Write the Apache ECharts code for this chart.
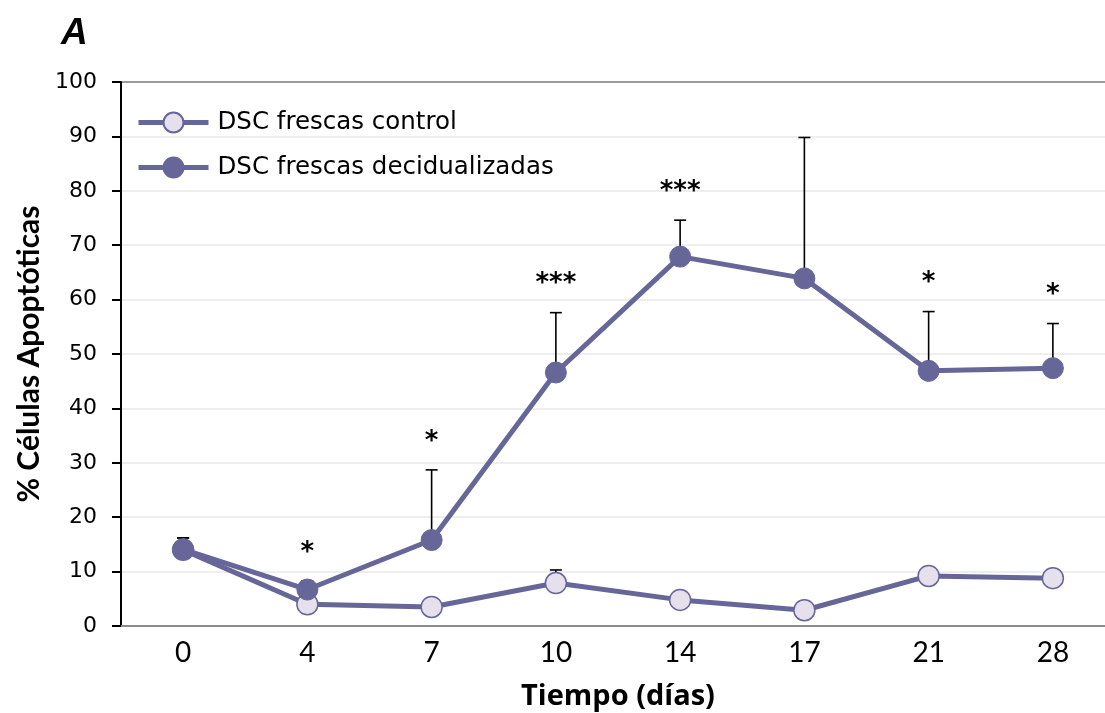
<!DOCTYPE html>
<html>
<head>
<meta charset="utf-8">
<script src="https://cdn.jsdelivr.net/npm/echarts@6/dist/echarts.min.js"></script>
<style>
  html, body { margin: 0; padding: 0; background: #ffffff; overflow: hidden; }
  #chart { width: 1105px; height: 713px; }
</style>
</head>
<body>
<div id="chart"></div>
<script>
// Days of culture
const days = ['0', '4', '7', '10', '14', '17', '21', '28'];

// % apoptotic cells, fresh DSC without treatment
const controlMean  = [14.0, 4.0, 3.5, 7.9, 4.8, 2.9, 9.2, 8.8];
const controlUpper = [16.2, null, 5.0, 10.3, null, null, null, null];

// % apoptotic cells, fresh decidualized DSC
const decidMean  = [14.1, 6.7, 15.8, 46.6, 67.9, 63.9, 46.9, 47.4];
const decidUpper = [16.2, 8.3, 28.7, 57.6, 74.6, 89.8, 57.8, 55.6];

// Significance marks above the decidualized series
const significance = ['', '*', '*', '***', '***', '', '*', '*'];

// Y axis scale
const yMin = 0, yMax = 100, yStep = 10;

const seriesNames = ['DSC frescas control', 'DSC frescas decidualizadas'];
const purple = '#666699';
const lightFill = '#e6e0ec';
const sansFont = '"DejaVu Sans", Verdana, sans-serif';

function errorBarItem(params, api) {
  const mean = api.value(1);
  const hi = api.value(2);
  if (hi == null || isNaN(hi)) return null;
  const p0 = api.coord([api.value(0), mean]);
  const p1 = api.coord([api.value(0), hi]);
  const half = 6;
  const style = { stroke: '#000000', lineWidth: 1.6 };
  return {
    type: 'group',
    children: [
      { type: 'line', shape: { x1: p0[0], y1: p0[1], x2: p1[0], y2: p1[1] }, style },
      { type: 'line', shape: { x1: p1[0] - half, y1: p1[1], x2: p1[0] + half, y2: p1[1] }, style }
    ]
  };
}

function starItem(params, api) {
  const txt = significance[params.dataIndex];
  if (!txt) return null;
  const p = api.coord([api.value(0), api.value(1)]);
  return {
    type: 'text',
    x: p[0],
    y: p[1] - 28,
    style: {
      text: txt,
      fill: '#000000',
      font: 'bold 26px "DejaVu Sans", sans-serif',
      align: 'center',
      verticalAlign: 'middle'
    }
  };
}

const gridColors = [];
for (let v = yMin; v <= yMax; v += yStep) gridColors.push(v === yMax ? '#9a9a9a' : '#eeeeee');

const chart = echarts.init(document.getElementById('chart'), null, { renderer: 'canvas' });
chart.setOption({
  backgroundColor: '#ffffff',
  animation: false,
  graphic: [{
    type: 'text',
    left: 61,
    top: 15,
    style: {
      text: 'A',
      fill: '#000000',
      font: 'italic bold 37px "Liberation Sans", Arial, sans-serif'
    }
  }],
  grid: { left: 121, right: -10, top: 82, bottom: 87, containLabel: false, outerBoundsMode: 'none' },
  legend: {
    orient: 'vertical',
    left: 136,
    top: 110,
    padding: 0,
    itemWidth: 70,
    itemHeight: 25,
    itemGap: 20,
    data: seriesNames,
    lineStyle: { width: 5 },
    textStyle: {
      fontFamily: sansFont,
      fontSize: 24.5,
      color: '#000000',
      padding: [0, 0, 0, 4]
    }
  },
  xAxis: {
    type: 'category',
    data: days,
    boundaryGap: true,
    axisLine: { show: true, lineStyle: { color: '#8c8c8c', width: 2 } },
    axisTick: { show: false },
    axisLabel: {
      margin: 13,
      fontFamily: 'Lato, "Open Sans", sans-serif',
      fontSize: 28,
      color: '#000000'
    },
    name: 'Tiempo (días)',
    nameLocation: 'middle',
    nameGap: 56,
    nameTextStyle: {
      fontFamily: '"Open Sans", Lato, sans-serif',
      fontWeight: 'bold',
      fontSize: 29,
      color: '#000000'
    }
  },
  yAxis: {
    type: 'value',
    min: yMin,
    max: yMax,
    interval: yStep,
    axisLine: { show: true, lineStyle: { color: '#000000', width: 2 } },
    axisTick: { show: true, length: 9, lineStyle: { color: '#000000', width: 2 } },
    axisLabel: {
      margin: 24,
      fontFamily: sansFont,
      fontSize: 22,
      color: '#000000'
    },
    splitLine: { show: true, lineStyle: { color: gridColors, width: 2 } },
    name: '% Células Apoptóticas',
    nameLocation: 'middle',
    nameGap: 76,
    nameTextStyle: {
      fontFamily: 'Lato, "Open Sans", sans-serif',
      fontWeight: 'bold',
      fontSize: 30,
      color: '#000000'
    }
  },
  series: [
    {
      type: 'custom',
      name: 'errDecid',
      z: 1,
      silent: true,
      renderItem: errorBarItem,
      data: days.map((d, i) => [i, decidMean[i], decidUpper[i]])
    },
    {
      type: 'custom',
      name: 'errControl',
      z: 1,
      silent: true,
      renderItem: errorBarItem,
      data: days.map((d, i) => [i, controlMean[i], controlUpper[i]])
    },
    {
      name: seriesNames[0],
      type: 'line',
      z: 3,
      data: controlMean,
      symbol: 'circle',
      symbolSize: 21,
      lineStyle: { color: purple, width: 5 },
      itemStyle: { color: lightFill, borderColor: purple, borderWidth: 1.5 }
    },
    {
      name: seriesNames[1],
      type: 'line',
      z: 4,
      data: decidMean,
      symbol: 'circle',
      symbolSize: 21,
      lineStyle: { color: purple, width: 5 },
      itemStyle: { color: purple, borderColor: purple, borderWidth: 1 }
    },
    {
      type: 'custom',
      name: 'stars',
      z: 5,
      silent: true,
      renderItem: starItem,
      data: days.map((d, i) => [i, decidUpper[i]])
    }
  ]
});
</script>
</body>
</html>
